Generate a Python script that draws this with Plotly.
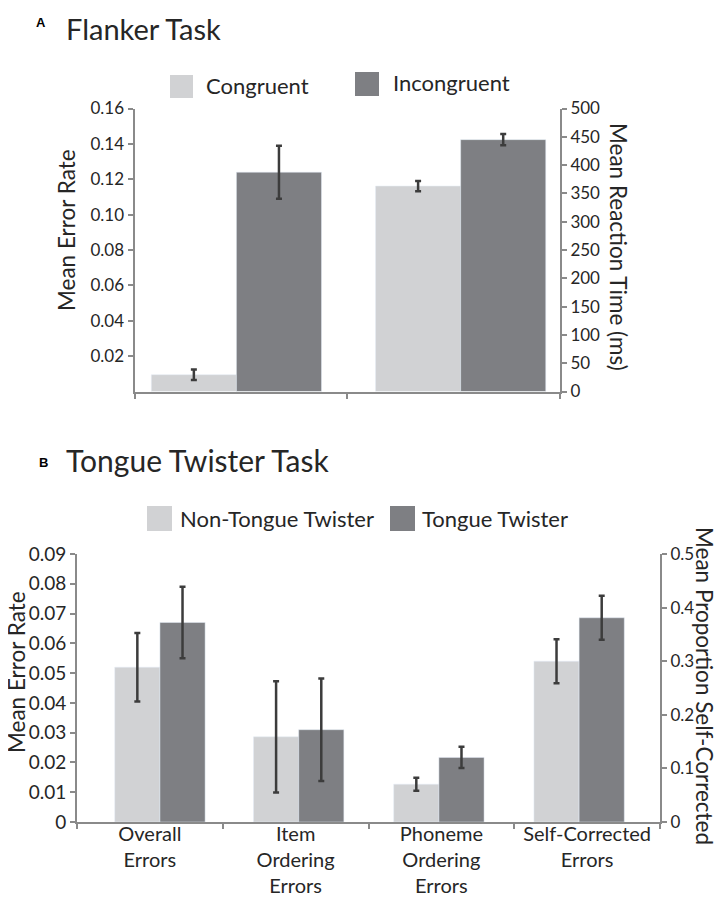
import plotly.graph_objects as go

# page is offset by the 8px body margin, so draw in a slightly smaller figure
PAD = 8
W, H = 722 - 2 * PAD, 904 - 2 * PAD

# Panel A: Flanker task
flanker_conditions = ["Congruent", "Incongruent"]
flanker_measures = ["Error Rate", "Reaction Time"]
flanker_err = [0.0095, 0.124]
flanker_err_se = [0.003, 0.015]
flanker_rt = [363, 445]
flanker_rt_se = [9, 10]
flanker_err_ticks = [0.02, 0.04, 0.06, 0.08, 0.10, 0.12, 0.14, 0.16]
flanker_rt_ticks = [0, 50, 100, 150, 200, 250, 300, 350, 400, 450, 500]

# Panel B: Tongue twister task
tt_conditions = ["Non-Tongue Twister", "Tongue Twister"]
tt_categories = ["Overall<br>Errors", "Item<br>Ordering<br>Errors",
                 "Phoneme<br>Ordering<br>Errors", "Self-Corrected<br>Errors"]
tt_rate_non = [0.052, 0.0286, 0.0127]
tt_rate_non_se = [0.0115, 0.0187, 0.0022]
tt_rate_tt = [0.067, 0.031, 0.0217]
tt_rate_tt_se = [0.012, 0.0172, 0.0036]
tt_selfcorr = [0.300, 0.381]
tt_selfcorr_se = [0.041, 0.041]
tt_rate_ticks = [0, 0.01, 0.02, 0.03, 0.04, 0.05, 0.06, 0.07, 0.08, 0.09]
tt_rate_labels = ["0", "0.01", "0.02", "0.03", "0.04", "0.05", "0.06", "0.07", "0.08", "0.09"]
tt_prop_ticks = [0, 0.1, 0.2, 0.3, 0.4, 0.5]
tt_prop_labels = ["0", "0.1", "0.2", "0.3", "0.4", "0.5"]

LIGHT = "#d1d2d4"
DARK = "#7e7f83"
ERR = "#3c3c3c"
AXIS = "#8a8a8a"
TEXT = "#262626"
FONT = "Lato"

# bar widths and small per-group nudges (category units) to sit like the original
WA, WB = 0.4, 0.31
A_NUDGE = [-0.021, 0.033]
B_NUDGE = [0.069, 0.021, -0.017, -0.055]


# page pixel -> paper fraction
def px(x):
    return (x - PAD) / W


def py(y):
    return 1 - (y - PAD) / H


def err(vals):
    return dict(type="data", array=vals, color=ERR, thickness=2.5, width=3)


fig = go.Figure()

# A: error rate on left axis, RT on right axis
for i, (name, col) in enumerate(zip(flanker_conditions, [LIGHT, DARK])):
    base = -WA if i == 0 else 0
    fig.add_trace(go.Bar(x=[flanker_measures[0]], y=[flanker_err[i]], error_y=err([flanker_err_se[i]]),
                         name=name, marker_color=col, width=WA, offset=base + A_NUDGE[0],
                         xaxis="x", yaxis="y", showlegend=False))
    fig.add_trace(go.Bar(x=[flanker_measures[1]], y=[flanker_rt[i]], error_y=err([flanker_rt_se[i]]),
                         name=name, marker_color=col, width=WA, offset=base + A_NUDGE[1],
                         xaxis="x", yaxis="y2", showlegend=False))

# B: error rates on left axis, self-corrected proportion on right axis
rates = [(tt_rate_non, tt_rate_non_se), (tt_rate_tt, tt_rate_tt_se)]
for i, (name, col) in enumerate(zip(tt_conditions, [LIGHT, DARK])):
    base = -WB if i == 0 else 0
    fig.add_trace(go.Bar(x=tt_categories[:3], y=rates[i][0], error_y=err(rates[i][1]),
                         name=name, marker_color=col, width=WB,
                         offset=[base + n for n in B_NUDGE[:3]],
                         xaxis="x2", yaxis="y3", showlegend=False))
    fig.add_trace(go.Bar(x=[tt_categories[3]], y=[tt_selfcorr[i]], error_y=err([tt_selfcorr_se[i]]),
                         name=name, marker_color=col, width=WB, offset=base + B_NUDGE[3],
                         xaxis="x2", yaxis="y4", showlegend=False))

line = dict(showline=True, linecolor=AXIS, linewidth=2, showgrid=False, zeroline=False,
            ticks="outside", tickcolor=AXIS, tickwidth=2, ticklen=5, automargin=False)

fig.update_layout(
    width=W, height=H, barmode="overlay",
    margin=dict(l=0, r=0, t=0, b=0, pad=0),
    paper_bgcolor="white", plot_bgcolor="white",
    font=dict(family=FONT, color=TEXT),
    xaxis=dict(domain=[px(134.5), px(560)], anchor="y", type="category",
               categoryorder="array", categoryarray=flanker_measures, range=[-0.5, 1.5],
               tickson="boundaries", showticklabels=False, **line),
    yaxis=dict(domain=[py(391.5), py(108.5)], anchor="x", range=[0, 0.16],
               tickvals=flanker_err_ticks, tickformat=".2f", tickfont=dict(size=17), **line),
    yaxis2=dict(overlaying="y", side="right", anchor="x", range=[0, 500],
                tickvals=flanker_rt_ticks, tickfont=dict(size=17), **line),
    xaxis2=dict(domain=[px(77), px(660)], anchor="y3", type="category",
                categoryorder="array", categoryarray=tt_categories, range=[-0.5, 3.5],
                tickson="boundaries", tickangle=0, ticklabelstandoff=-7,
                tickfont=dict(size=20), **line),
    yaxis3=dict(domain=[py(822), py(554)], anchor="x2", range=[0, 0.09],
                tickvals=tt_rate_ticks, ticktext=tt_rate_labels, tickfont=dict(size=19), **line),
    yaxis4=dict(overlaying="y3", side="right", anchor="x2", range=[0, 0.5],
                tickvals=tt_prop_ticks, ticktext=tt_prop_labels, tickfont=dict(size=17), **line),
)

ann = []
# panel titles
ann.append(dict(text="<b>A</b>", x=px(34), y=py(23), xanchor="left", yanchor="middle",
                font=dict(size=13, family="Liberation Sans", color="black")))
ann.append(dict(text="Flanker Task", x=px(64), y=py(9), xanchor="left", yanchor="top",
                font=dict(size=29)))
ann.append(dict(text="<b>B</b>", x=px(37), y=py(462), xanchor="left", yanchor="middle",
                font=dict(size=13, family="Liberation Sans", color="black")))
ann.append(dict(text="Tongue Twister Task", x=px(64), y=py(460), xanchor="left", yanchor="middle",
                font=dict(size=30)))
# axis titles
ann.append(dict(text="Mean Error Rate", x=px(66), y=py(230), textangle=-90,
                xanchor="center", yanchor="middle", font=dict(size=22.5)))
ann.append(dict(text="Mean Reaction Time (ms)", x=px(619), y=py(247), textangle=90,
                xanchor="center", yanchor="middle", font=dict(size=22.5)))
ann.append(dict(text="Mean Error Rate", x=px(16), y=py(672), textangle=-90,
                xanchor="center", yanchor="middle", font=dict(size=22.5)))
ann.append(dict(text="Mean Proportion Self-Corrected", x=px(705), y=py(686), textangle=90,
                xanchor="center", yanchor="middle", font=dict(size=22.5)))

# legend swatches + labels
shapes = []
legend_items = [
    (flanker_conditions[0], LIGHT, 170, 75, 23, 204, 86),
    (flanker_conditions[1], DARK, 355, 72, 24, 391, 83),
    (tt_conditions[0], LIGHT, 147, 506, 25, 178, 518),
    (tt_conditions[1], DARK, 390, 506, 25, 420, 518),
]
for name, col, x0, y0, s, tx, ty in legend_items:
    shapes.append(dict(type="rect", xref="paper", yref="paper", x0=px(x0), x1=px(x0 + s),
                       y0=py(y0 + s), y1=py(y0), fillcolor=col, line=dict(width=0)))
    ann.append(dict(text=name, x=px(tx), y=py(ty), xanchor="left", yanchor="middle",
                    font=dict(size=22)))

for a in ann:
    a.update(xref="paper", yref="paper", showarrow=False)
fig.update_layout(annotations=ann, shapes=shapes)

fig.write_html("out.html")
